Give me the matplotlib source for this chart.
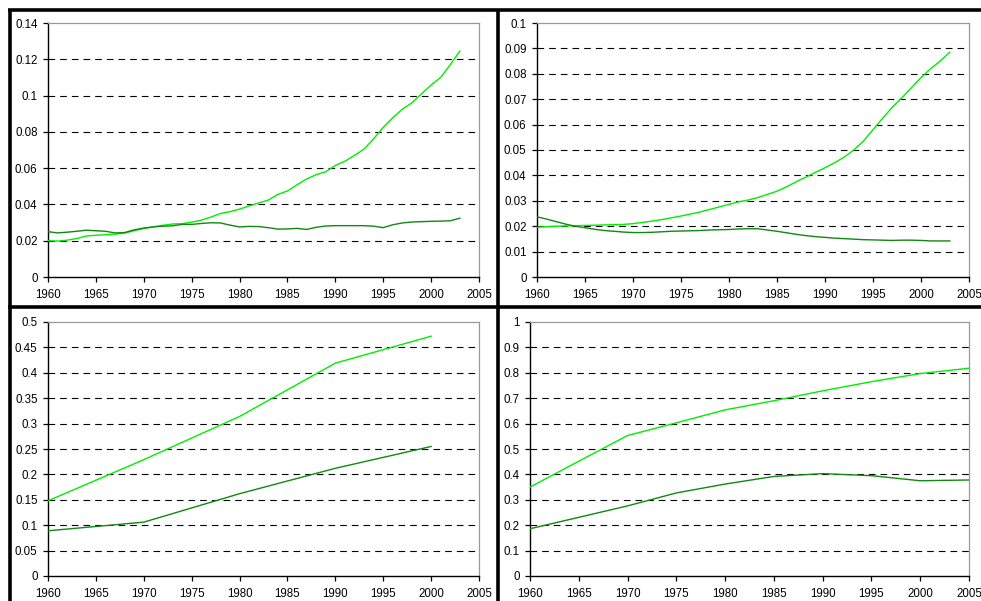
import matplotlib.pyplot as plt
from matplotlib.lines import Line2D
from matplotlib.ticker import FuncFormatter

plt.rcParams['font.family'] = ['Liberation Sans', 'DejaVu Sans']

LIGHT = '#00ee00'
DARK = '#118811'

# top-left panel, annual 1960-2003
years_a = list(range(1960, 2004))
tl_light = [0.0200, 0.0198, 0.0203, 0.0212, 0.0226, 0.0230, 0.0233, 0.0236, 0.0242, 0.0255,
            0.0267, 0.0277, 0.0285, 0.0292, 0.0294, 0.0302, 0.0313, 0.0330, 0.0350, 0.0360,
            0.0374, 0.0392, 0.0408, 0.0424, 0.0455, 0.0474, 0.0508, 0.0540, 0.0564, 0.0580,
            0.0615, 0.0638, 0.0670, 0.0705, 0.0762, 0.0825, 0.0878, 0.0925, 0.0960, 0.1010,
            0.1058, 0.1100, 0.1170, 0.1245]
tl_dark = [0.0250, 0.0243, 0.0247, 0.0252, 0.0258, 0.0255, 0.0252, 0.0243, 0.0245, 0.0260,
           0.0270, 0.0276, 0.0280, 0.0282, 0.0290, 0.0290, 0.0295, 0.0299, 0.0298, 0.0286,
           0.0276, 0.0279, 0.0278, 0.0272, 0.0264, 0.0265, 0.0268, 0.0262, 0.0274, 0.0281,
           0.0283, 0.0283, 0.0283, 0.0283, 0.0280, 0.0272, 0.0288, 0.0298, 0.0303, 0.0305,
           0.0307, 0.0308, 0.0310, 0.0324]

# top-right panel, annual 1960-2003
tr_light = [0.0196, 0.0198, 0.0200, 0.0201, 0.0202, 0.0203, 0.0204, 0.0205, 0.0206, 0.0207,
            0.0210, 0.0215, 0.0220, 0.0226, 0.0233, 0.0240, 0.0248, 0.0256, 0.0266, 0.0276,
            0.0286, 0.0296, 0.0303, 0.0313, 0.0325, 0.0338, 0.0355, 0.0375, 0.0393, 0.0412,
            0.0430, 0.0450, 0.0472, 0.0500, 0.0535, 0.0580, 0.0625, 0.0668, 0.0705, 0.0745,
            0.0785, 0.0820, 0.0850, 0.0885]
tr_dark = [0.0237, 0.0228, 0.0218, 0.0208, 0.0200, 0.0194, 0.0188, 0.0183, 0.0180, 0.0177,
           0.0175, 0.0175, 0.0176, 0.0178, 0.0180, 0.0181, 0.0182, 0.0183, 0.0185, 0.0186,
           0.0187, 0.0189, 0.0190, 0.0190, 0.0185, 0.0180, 0.0174, 0.0168, 0.0163, 0.0159,
           0.0156, 0.0153, 0.0151, 0.0149, 0.0147, 0.0146, 0.0145, 0.0144, 0.0145, 0.0145,
           0.0144, 0.0142, 0.0142, 0.0142]

# bottom-left panel, every 10 years
years_b = [1960, 1970, 1980, 1990, 2000]
bl_light = [0.148, 0.229, 0.314, 0.419, 0.472]
bl_dark = [0.089, 0.106, 0.162, 0.212, 0.255]

# bottom-right panel, every 5 years
years_c = [1960, 1965, 1970, 1975, 1980, 1985, 1990, 1995, 2000, 2005]
br_light = [0.350, 0.452, 0.553, 0.603, 0.654, 0.690, 0.729, 0.765, 0.797, 0.818]
br_dark = [0.186, 0.231, 0.276, 0.327, 0.362, 0.392, 0.403, 0.395, 0.375, 0.378]

W, H = 981, 601
fig = plt.figure(figsize=(W / 100, H / 100), dpi=100)


def px_axes(left, right, top, bottom):
    return fig.add_axes([left / W, 1 - bottom / H, (right - left) / W, (bottom - top) / H])


def style(ax, ymax, ystep):
    ax.set_xlim(1960, 2005)
    ax.set_ylim(0, ymax)
    ax.set_xticks(range(1960, 2006, 5))
    n = int(round(ymax / ystep))
    yt = [round(i * ystep, 4) for i in range(n + 1)]
    ax.set_yticks(yt)
    ax.yaxis.set_major_formatter(FuncFormatter(lambda v, p: '%g' % round(v, 4)))
    ax.hlines(yt[1:-1], 1960, 2005, colors='black', linewidth=0.8,
              linestyles=(0, (6, 4.5)), zorder=1)
    for s in ['top', 'right']:
        ax.spines[s].set_color('#999999')
        ax.spines[s].set_linewidth(0.9)
    for s in ['left', 'bottom']:
        ax.spines[s].set_color('black')
        ax.spines[s].set_linewidth(1.0)
    ax.tick_params(direction='out', length=3.5, width=0.9, labelsize=8.3,
                   colors='black')
    ax.tick_params(axis='y', pad=4)
    ax.tick_params(axis='x', pad=5)


ax1 = px_axes(48, 479, 23, 277)
style(ax1, 0.14, 0.02)
ax1.plot(years_a, tl_light, color=LIGHT, lw=1.0, zorder=3)
ax1.plot(years_a, tl_dark, color=DARK, lw=1.0, zorder=3)

ax2 = px_axes(537, 969, 23, 277)
style(ax2, 0.1, 0.01)
ax2.plot(years_a, tr_light, color=LIGHT, lw=1.0, zorder=3)
ax2.plot(years_a, tr_dark, color=DARK, lw=1.0, zorder=3)

ax3 = px_axes(48, 479, 322, 576)
style(ax3, 0.5, 0.05)
ax3.plot(years_b, bl_light, color=LIGHT, lw=1.0, zorder=3)
ax3.plot(years_b, bl_dark, color=DARK, lw=1.0, zorder=3)

ax4 = px_axes(530, 969, 322, 576)
style(ax4, 1.0, 0.1)
ax4.plot(years_c, br_light, color=LIGHT, lw=1.0, zorder=3)
ax4.plot(years_c, br_dark, color=DARK, lw=1.0, zorder=3)

# black table borders around the panels
def border(x0, y0, x1, y1):
    fig.add_artist(Line2D([x0 / W, x1 / W], [1 - y0 / H, 1 - y1 / H],
                          color='black', linewidth=2.6, solid_capstyle='butt'))


border(8, 10, W, 10)
border(8, 307, W, 307)
border(10, 9, 10, H)
border(498, 9, 498, H)

fig.savefig('out.png', dpi=100)
